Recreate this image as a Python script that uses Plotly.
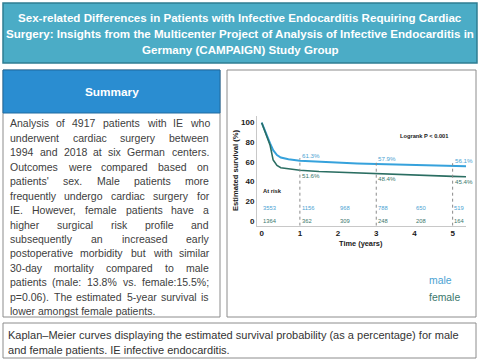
import plotly.graph_objects as go

W, H = 480, 361

# ---------------- data ----------------
years = [0, 0.04, 0.13, 0.22, 0.3, 0.4, 0.5, 0.7, 1.0, 1.5, 2.0, 2.5, 3.0, 3.5, 4.0, 4.5, 5.0, 5.35]
male_surv = [100, 96, 86, 79, 72, 67, 64.5, 62.8, 61.3, 60.2, 59.3, 58.5, 57.9, 57.4, 56.9, 56.5, 56.1, 55.8]
female_surv = [100, 96, 86, 77, 62, 56.5, 54.2, 53.0, 51.6, 50.4, 49.6, 49.0, 48.4, 47.7, 46.9, 46.1, 45.4, 45.0]

landmark_years = [1, 3, 5]
male_landmark = [61.3, 57.9, 56.1]
female_landmark = [51.6, 48.4, 45.4]

risk_years = [0, 1, 2, 3, 4, 5]
male_at_risk = [3553, 1156, 968, 788, 650, 519]
female_at_risk = [1364, 362, 309, 248, 208, 164]

x_ticks = [0, 1, 2, 3, 4, 5]
y_ticks = [0, 20, 40, 60, 80, 100]

title_lines = [
    "Sex-related Differences in Patients with Infective Endocarditis Requiring Cardiac",
    "Surgery: Insights from the Multicenter Project of Analysis of Infective Endocarditis in",
    "Germany (CAMPAIGN) Study Group",
]
summary_lines = [
    "Analysis of 4917 patients with IE who",
    "underwent cardiac surgery between",
    "1994 and 2018 at six German centers.",
    "Outcomes were compared based on",
    "patients' sex. Male patients more",
    "frequently undergo cardiac surgery for",
    "IE. However, female patients have a",
    "higher surgical risk profile and",
    "subsequently an increased early",
    "postoperative morbidity but with similar",
    "30-day mortality compared to male",
    "patients (male: 13.8% vs. female:15.5%;",
    "p=0.06). The estimated 5-year survival is",
    "lower amongst female patients.",
]
caption_lines = [
    "Kaplan\u2013Meier curves displaying the estimated survival probability (as a percentage) for male",
    "and female patients. IE infective endocarditis.",
]

# ---------------- styles ----------------
FONT = "Liberation Sans"
MALE_C = "#36a2dc"
FEMALE_C = "#2b6e62"
MALE_T = "#4ba3d3"
FEMALE_T = "#3b776c"
TEXT_C = "#404040"

REG = {' ': 278, '%': 889, "'": 191, '(': 333, ')': 333, ',': 278, '-': 333, '.': 278, ':': 278,
       ';': 278, '=': 584, '\u2013': 556,
       'A': 667, 'B': 667, 'C': 722, 'D': 722, 'E': 667, 'F': 611, 'G': 778, 'H': 722, 'I': 278,
       'J': 500, 'K': 667, 'L': 556, 'M': 833, 'N': 722, 'O': 778, 'P': 667, 'Q': 778, 'R': 722,
       'S': 667, 'T': 611, 'U': 722, 'V': 667, 'W': 944, 'X': 667, 'Y': 667, 'Z': 611,
       'a': 556, 'b': 556, 'c': 500, 'd': 556, 'e': 556, 'f': 278, 'g': 556, 'h': 556, 'i': 222,
       'j': 222, 'k': 500, 'l': 222, 'm': 833, 'n': 556, 'o': 556, 'p': 556, 'q': 556, 'r': 333,
       's': 500, 't': 278, 'u': 556, 'v': 500, 'w': 722, 'x': 500, 'y': 500, 'z': 500}
BOLD = {' ': 278, '(': 333, ')': 333, ':': 333, '-': 333, '%': 889, '.': 278, ',': 278, '<': 584,
        'A': 722, 'B': 722, 'C': 722, 'D': 722, 'E': 667, 'F': 611, 'G': 778, 'H': 722, 'I': 278,
        'J': 556, 'K': 722, 'L': 611, 'M': 833, 'N': 722, 'O': 778, 'P': 667, 'Q': 778, 'R': 722,
        'S': 667, 'T': 611, 'U': 722, 'V': 667, 'W': 944, 'X': 667, 'Y': 667, 'Z': 611,
        'a': 556, 'b': 611, 'c': 556, 'd': 611, 'e': 556, 'f': 333, 'g': 611, 'h': 611, 'i': 278,
        'j': 278, 'k': 556, 'l': 278, 'm': 889, 'n': 611, 'o': 611, 'p': 611, 'q': 611, 'r': 389,
        's': 556, 't': 333, 'u': 611, 'v': 556, 'w': 778, 'x': 556, 'y': 556, 'z': 500}


def em(s, bold=False):
    t = BOLD if bold else REG
    return sum(t.get(c, 556) for c in s) / 1000.0


def px(x):
    return x / W


def py(y):
    return 1 - y / H


fig = go.Figure()
fig.add_trace(go.Scatter(x=years, y=male_surv, mode="lines", line=dict(color=MALE_C, width=2),
                         showlegend=False, hoverinfo="skip"))
fig.add_trace(go.Scatter(x=years, y=female_surv, mode="lines", line=dict(color=FEMALE_C, width=1.6),
                         showlegend=False, hoverinfo="skip"))

ann = []
shapes = []

# boxes
shapes.append(dict(type="rect", xref="paper", yref="paper", x0=px(3), x1=px(477), y0=py(63), y1=py(3),
                   fillcolor="#4bacc6", line=dict(color="#2f7e93", width=1.5), layer="below"))
shapes.append(dict(type="rect", xref="paper", yref="paper", x0=px(3), x1=px(220), y0=py(317), y1=py(70),
                   fillcolor="white", line=dict(color="#8c8c8c", width=1), layer="below"))
shapes.append(dict(type="rect", xref="paper", yref="paper", x0=px(3), x1=px(220), y0=py(113), y1=py(70),
                   fillcolor="#2a8dd1", line=dict(color="#1f6aa0", width=1), layer="below"))
shapes.append(dict(type="rect", xref="paper", yref="paper", x0=px(227), x1=px(476), y0=py(317), y1=py(70),
                   fillcolor="white", line=dict(color="#8c8c8c", width=1), layer="below"))
shapes.append(dict(type="rect", xref="paper", yref="paper", x0=px(3), x1=px(476), y0=py(358), y1=py(323),
                   fillcolor="white", line=dict(color="#8c8c8c", width=1), layer="below"))

# title
title_size = 469.0 / em(title_lines[1], True)
for i, line in enumerate(title_lines):
    ann.append(dict(x=px(240), y=py(18 + 16 * i), xref="paper", yref="paper", text=f"<b>{line}</b>",
                    showarrow=False, xanchor="center", yanchor="middle", borderpad=0,
                    font=dict(family=FONT, size=title_size, color="white")))

# summary header
ann.append(dict(x=px(111.5), y=py(92), xref="paper", yref="paper", text="<b>Summary</b>", showarrow=False,
                xanchor="center", yanchor="middle", font=dict(family=FONT, size=11.8, color="white")))

# summary justified text
L, R = 9.0, 208.0
S_SIZE = 10.5
for i, line in enumerate(summary_lines):
    yy = py(123.5 + 14.43 * i)
    words = line.split(" ")
    if i == len(summary_lines) - 1:
        ann.append(dict(x=px(L), y=yy, xref="paper", yref="paper", text=line, showarrow=False,
                        xanchor="left", yanchor="middle", borderpad=0,
                        font=dict(family=FONT, size=S_SIZE, color=TEXT_C)))
        continue
    widths = [em(w) * S_SIZE for w in words]
    gap = (R - L - sum(widths)) / (len(words) - 1)
    x = L
    for w, wd in zip(words, widths):
        ann.append(dict(x=px(x), y=yy, xref="paper", yref="paper", text=w, showarrow=False,
                        xanchor="left", yanchor="middle", borderpad=0,
                        font=dict(family=FONT, size=S_SIZE, color=TEXT_C)))
        x += wd + gap

# caption
cap_size = 451.0 / em(caption_lines[0])
for i, line in enumerate(caption_lines):
    ann.append(dict(x=px(6.5), y=py(335 + 14.5 * i), xref="paper", yref="paper", text=line, showarrow=False,
                    xanchor="left", yanchor="middle", borderpad=0,
                    font=dict(family=FONT, size=cap_size, color="#333333")))

# chart texts
ann.append(dict(x=px(236), y=py(170), xref="paper", yref="paper", text="<b>Estimated survival (%)</b>",
                showarrow=False, textangle=-90, xanchor="center", yanchor="middle",
                font=dict(family=FONT, size=7.6, color="#1a1a1a")))
ann.append(dict(x=px(361), y=py(243), xref="paper", yref="paper", text="<b>Time (years)</b>",
                showarrow=False, xanchor="center", yanchor="middle",
                font=dict(family=FONT, size=7.4, color="#1a1a1a")))
ann.append(dict(x=4.9, y=86.5, xref="x", yref="y", text="<b>Logrank P < 0.001</b>", showarrow=False,
                xanchor="right", yanchor="middle", borderpad=0,
                font=dict(family=FONT, size=5.7, color="#1a1a1a")))
ann.append(dict(x=0, y=30.5, xref="x", yref="y", text="<b>At risk</b>", showarrow=False,
                xanchor="left", yanchor="middle", borderpad=0,
                font=dict(family=FONT, size=5.8, color="#1a1a1a")))

for t, m, f in zip(landmark_years, male_landmark, female_landmark):
    shapes.append(dict(type="line", xref="x", yref="y", x0=t, x1=t, y0=-4.8, y1=m + 2.7,
                       line=dict(color="#8a8a8a", width=1, dash="dot")))
    ann.append(dict(x=t + 0.03, y=m + 0.8, xref="x", yref="y", text=f"{m:.1f}%", showarrow=False,
                    xanchor="left", yanchor="bottom", borderpad=0,
                    font=dict(family=FONT, size=6.2, color=MALE_T)))
    ann.append(dict(x=t + 0.03, y=f - 0.8, xref="x", yref="y", text=f"{f:.1f}%", showarrow=False,
                    xanchor="left", yanchor="top", borderpad=0,
                    font=dict(family=FONT, size=6.2, color=FEMALE_T)))

for t, m, f in zip(risk_years, male_at_risk, female_at_risk):
    ann.append(dict(x=t + 0.02, y=13, xref="x", yref="y", text=str(m), showarrow=False,
                    xanchor="left", yanchor="middle", borderpad=0,
                    font=dict(family=FONT, size=5.8, color=MALE_T)))
    ann.append(dict(x=t + 0.02, y=0, xref="x", yref="y", text=str(f), showarrow=False,
                    xanchor="left", yanchor="middle", borderpad=0,
                    font=dict(family=FONT, size=5.8, color=FEMALE_T)))

# legend texts
ann.append(dict(x=px(428), y=py(280), xref="paper", yref="paper", text="male", showarrow=False,
                xanchor="left", yanchor="middle", borderpad=0, font=dict(family=FONT, size=10.4, color=MALE_T)))
ann.append(dict(x=px(428), y=py(297), xref="paper", yref="paper", text="female", showarrow=False,
                xanchor="left", yanchor="middle", borderpad=0, font=dict(family=FONT, size=10.4, color=FEMALE_T)))

fig.update_layout(
    width=W, height=H, autosize=False,
    margin=dict(l=0, r=0, t=0, b=0, pad=0),
    paper_bgcolor="white", plot_bgcolor="white",
    annotations=ann, shapes=shapes, showlegend=False,
    xaxis=dict(domain=[px(257), px(466)], range=[-0.123, 5.35], tickvals=x_ticks,
               ticktext=[f"<b>{v}</b>" for v in x_ticks], showgrid=False, zeroline=False,
               showline=True, linecolor="#c8c8c8", linewidth=1, ticks="", automargin=False,
               tickfont=dict(family=FONT, size=8, color="#1a1a1a")),
    yaxis=dict(domain=[py(225.7), py(116)], range=[-4.8, 106.8], tickvals=y_ticks,
               ticktext=[f"<b>{v}</b>" for v in y_ticks], showgrid=False, zeroline=False,
               showline=True, linecolor="#c8c8c8", linewidth=1, ticks="", automargin=False,
               tickfont=dict(family=FONT, size=8, color="#1a1a1a")),
)

fig.write_html(
    "out.html",
    config={"displayModeBar": False},
    post_script="document.body.style.margin='0';document.body.style.padding='0';"
                "document.body.style.overflow='hidden';",
)
